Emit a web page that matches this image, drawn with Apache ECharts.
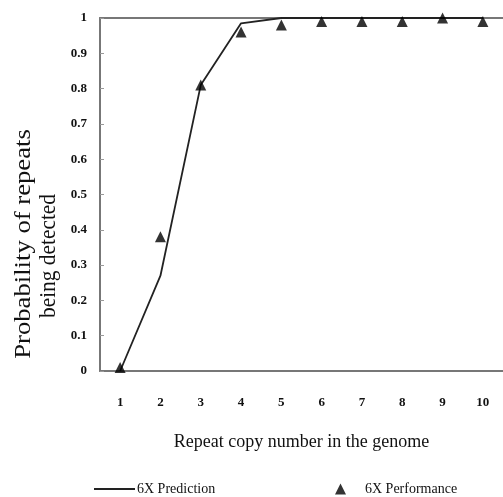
<!DOCTYPE html>
<html>
<head>
<meta charset="utf-8">
<script src="https://cdn.jsdelivr.net/npm/echarts@6/dist/echarts.min.js"></script>
<style>html,body{margin:0;padding:0;background:#fff;}#c{width:503px;height:497px;}</style>
</head>
<body>
<div id="c"></div>
<script>
const categories = ['1','2','3','4','5','6','7','8','9','10'];
const prediction = [0, 0.27, 0.81, 0.985, 1, 1, 1, 1, 1, 1];
const performance = [0.01, 0.38, 0.81, 0.96, 0.98, 0.99, 0.99, 0.99, 1.0, 0.99];
const yTicks = [0, 0.1, 0.2, 0.3, 0.4, 0.5, 0.6, 0.7, 0.8, 0.9, 1];
const seriesNames = ['6X Prediction', '6X Performance'];
const xTitle = 'Repeat copy number in the genome';
const yTitleLines = ['Probability of repeats', 'being detected'];

const serif = '"Liberation Serif", "Times New Roman", serif';
const chart = echarts.init(document.getElementById('c'));
chart.setOption({
  animation: false,
  backgroundColor: '#fff',
  grid: { left: 100, top: 18, width: 406, height: 353 },
  xAxis: [{
    type: 'category',
    data: categories,
    boundaryGap: true,
    axisLine: { lineStyle: { color: '#777', width: 2 } },
    axisTick: { inside: true, length: 5, lineStyle: { color: '#999' } },
    axisLabel: { color: '#111', fontFamily: serif, fontWeight: 'bold', fontSize: 13, margin: 25 },
    name: xTitle,
    nameLocation: 'middle',
    nameGap: 62,
    nameTextStyle: { color: '#111', fontFamily: serif, fontSize: 18 }
  }, {
    type: 'category',
    position: 'top',
    data: categories,
    axisLine: { show: true, lineStyle: { color: '#777', width: 2 } },
    axisTick: { show: false },
    axisLabel: { show: false }
  }],
  yAxis: {
    type: 'value',
    min: 0, max: 1, interval: 0.1,
    axisLine: { show: true, lineStyle: { color: '#777', width: 2 } },
    axisTick: { show: true, inside: true, length: 4, lineStyle: { color: '#999' } },
    splitLine: { show: false },
    axisLabel: {
      color: '#111', fontFamily: serif, fontWeight: 'bold', fontSize: 13, margin: 13,
      formatter: v => { const t = yTicks.find(k => Math.abs(k - v) < 1e-6); return t === undefined ? '' : String(t); }
    }
  },
  legend: [{
    data: [{ name: seriesNames[0], icon: 'rect' }],
    left: 89, top: 477,
    itemWidth: 41, itemHeight: 2, itemGap: 0,
    textStyle: { fontFamily: serif, fontSize: 14, color: '#111', padding: [0, 0, 0, -3] }
  }, {
    data: [{ name: seriesNames[1], icon: 'triangle' }],
    left: 330, top: 477,
    itemWidth: 11, itemHeight: 11,
    textStyle: { fontFamily: serif, fontSize: 14, color: '#111', padding: [0, 0, 0, 14] }
  }],
  graphic: [{
    type: 'text',
    x: 24, y: 244,
    rotation: Math.PI / 2,
    scaleX: 1.16,
    style: {
      text: yTitleLines[0],
      fontFamily: serif, fontSize: 23,
      fill: '#111', textAlign: 'center', textVerticalAlign: 'middle'
    }
  }, {
    type: 'text',
    x: 49, y: 256,
    rotation: Math.PI / 2,
    scaleX: 0.93,
    style: {
      text: yTitleLines[1],
      fontFamily: serif, fontSize: 23,
      fill: '#111', textAlign: 'center', textVerticalAlign: 'middle'
    }
  }],
  series: [{
    name: seriesNames[0],
    type: 'line',
    data: prediction,
    symbol: 'none',
    lineStyle: { color: '#222', width: 1.8 },
    itemStyle: { color: '#222' },
    z: 2
  }, {
    name: seriesNames[1],
    type: 'scatter',
    data: performance,
    symbol: 'triangle',
    symbolSize: 11,
    itemStyle: { color: '#000' },
    z: 3
  }]
});
</script>
</body>
</html>
